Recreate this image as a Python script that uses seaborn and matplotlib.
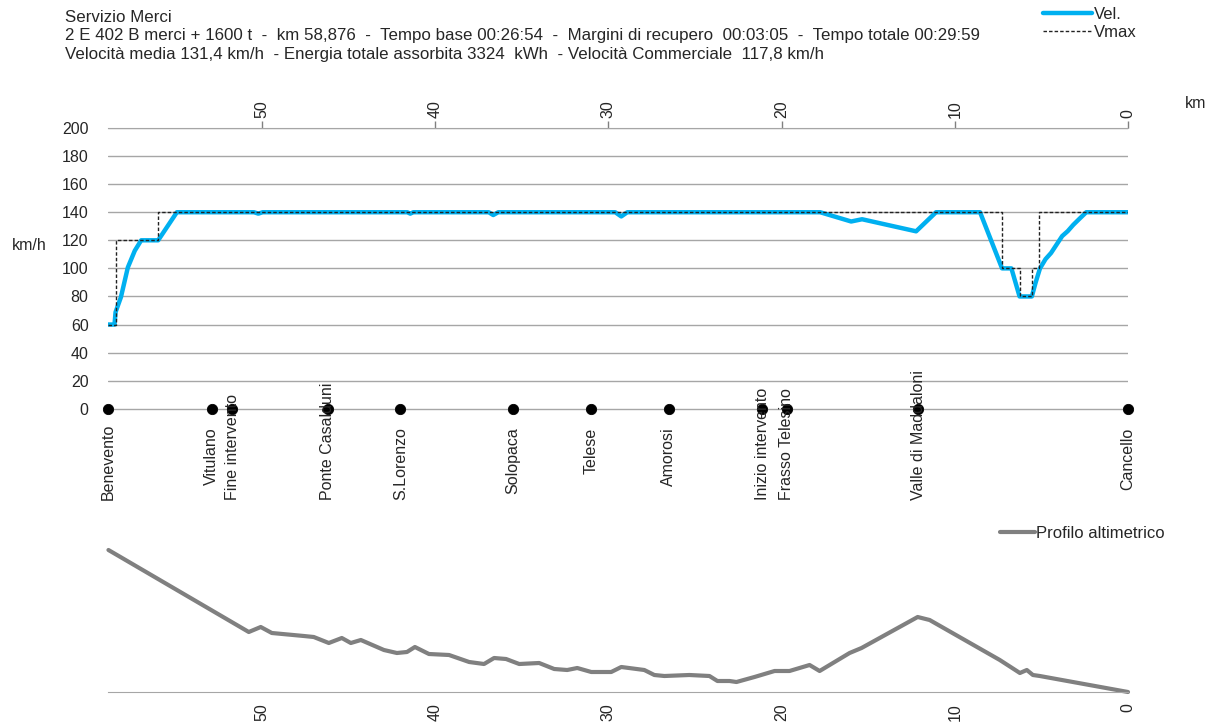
import matplotlib
matplotlib.use('Agg')
import matplotlib.pyplot as plt
import seaborn as sns
from matplotlib.lines import Line2D

sns.set_style('white')
plt.rcParams['font.family'] = ['Liberation Sans', 'DejaVu Sans']

# ---------------- data ----------------
header_lines = [
    "Servizio Merci",
    "2 E 402 B merci + 1600 t  -  km 58,876  -  Tempo base 00:26:54  -  Margini di recupero  00:03:05  -  Tempo totale 00:29:59",
    "Velocità media 131,4 km/h  - Energia totale assorbita 3324  kWh  - Velocità Commerciale  117,8 km/h",
]

speed_km = [58.876, 58.5, 58.44, 58.13, 57.73, 57.33, 56.96, 55.98, 54.9,
            50.45, 50.2, 49.95, 41.6, 41.43, 41.25, 36.9, 36.64, 36.35,
            29.6, 29.25, 28.9, 17.77, 15.98, 15.35, 12.23, 11.08, 8.54,
            7.27, 6.73, 6.26, 5.55, 5.33, 5.08, 4.76, 4.44, 4.12, 3.80,
            3.48, 3.16, 2.83, 2.41, 0.0]
speed_v = [60, 60, 68.8, 79.5, 100.7, 112.6, 120, 120, 140,
           140, 139, 140, 140, 139, 140, 140, 138, 140,
           140, 137, 140, 140, 133.4, 135, 126.4, 140, 140,
           100, 100, 80, 80, 90, 100, 106.6, 111, 117, 123,
           126.5, 131, 135, 140, 140]

vmax_km = [58.876, 58.43, 55.98, 7.27, 6.26, 5.55, 5.13, 0.0]
vmax_v = [60, 120, 140, 100, 80, 100, 140, 140]

station_names = ["Benevento", "Vitulano", "Fine intervento", "Ponte Casalduni",
                 "S.Lorenzo", "Solopaca", "Telese", "Amorosi",
                 "Inizio intervento", "Frasso Telesino", "Valle di Maddaloni",
                 "Cancello"]
station_km = [58.876, 52.9, 51.7, 46.2, 42.0, 35.5, 31.0, 26.5, 21.1, 19.7, 12.1, 0.0]

profile_km = [58.85, 50.75, 50.06, 49.42, 47.57, 47.0, 46.13, 45.38, 44.86, 44.28,
              42.95, 42.2, 41.62, 41.16, 40.35, 39.19, 38.03, 37.17, 36.59, 35.9,
              35.14, 33.99, 33.12, 32.37, 31.79, 30.98, 29.83, 29.25, 27.92, 27.34,
              26.76, 25.32, 24.16, 23.7, 23.0, 22.6, 21.56, 20.4, 19.54, 18.38,
              17.8, 16.07, 15.38, 12.14, 11.45, 7.4, 6.24, 5.84, 5.49, 5.09, 0.0]
profile_elev = [142, 60, 65, 59, 56, 55, 49, 54, 49, 52,
                42, 39, 40, 45, 38, 37, 30, 28, 34, 33,
                28, 29, 23, 22, 24, 20, 20, 25, 22, 17,
                16, 17, 16, 11, 11, 10, 15, 21, 21, 27,
                21, 39, 44, 75, 72, 32, 19, 22, 17, 16, 0]

km_ticks = [0, 10, 20, 30, 40, 50]
speed_ticks = list(range(0, 201, 20))

# ---------------- figure ----------------
W, H = 1217, 724
fig = plt.figure(figsize=(W / 100, H / 100), dpi=100)

def fx(px):
    return px / W

def fy(py):
    return 1 - py / H

for i, line in enumerate(header_lines):
    fig.text(fx(65), fy(17 + 18.5 * i), line, fontsize=12.2, va='center', ha='left')

ax = fig.add_axes([fx(108), fy(500), fx(1128 - 108), (500 - 128) / H])
ax.set_xlim(58.876, 0)
ax.set_ylim(-65, 200)

sns.lineplot(x=speed_km, y=speed_v, sort=False, estimator=None, color='#00B0F0',
             lw=3.2, ax=ax, zorder=3, solid_joinstyle='round')
sns.lineplot(x=vmax_km, y=vmax_v, sort=False, estimator=None, color='#222222',
             lw=1.0, ls=(0, (2.5, 1.5)), drawstyle='steps-post', ax=ax, zorder=4)
sns.scatterplot(x=station_km, y=[0] * len(station_km), color='black', s=55,
                edgecolor='black', ax=ax, zorder=5, clip_on=False, legend=False)

ax.set_yticks(speed_ticks)
ax.set_yticklabels([str(t) for t in speed_ticks], fontsize=11.5)
ax.yaxis.grid(True, color='#A6A6A6', lw=1)
ax.xaxis.grid(False)
ax.tick_params(axis='y', length=0, pad=14)
ax.xaxis.tick_top()
ax.set_xticks(km_ticks)
ax.set_xticklabels([str(t) for t in km_ticks], fontsize=11.5)
ax.tick_params(axis='x', direction='out', length=5, color='#808080', width=1,
               labelrotation=90, pad=2)
for s in ['left', 'right', 'bottom']:
    ax.spines[s].set_visible(False)
ax.spines['top'].set_color('#A6A6A6')
ax.set_xlabel('')
ax.set_ylabel('')

fig.text(fx(12), fy(245), 'km/h', fontsize=11.5, va='center', ha='left')
fig.text(fx(1185), fy(103), 'km', fontsize=11.5, va='center', ha='left')

# station labels
texts = []
for name, k in zip(station_names, station_km):
    t = ax.text(k, -13.5, name, rotation=90, va='top', ha='center', fontsize=11.5,
                zorder=6)
    texts.append(t)
fig.canvas.draw()
renderer = fig.canvas.get_renderer()
ybot_disp = ax.transData.transform((0, -65))[1]
for t in texts:
    bb = t.get_window_extent(renderer)
    if bb.y0 < ybot_disp:
        t.set_va('bottom')
        t.set_y(-65)

handles = [Line2D([], [], color='#00B0F0', lw=3.2),
           Line2D([], [], color='#222222', lw=1.0, ls=(0, (2.5, 1.5)))]
fig.legend(handles, ['Vel.', 'Vmax'], loc='upper left',
           bbox_to_anchor=(fx(1036), fy(0)), frameon=False, fontsize=12,
           handlelength=2.95, handletextpad=0.1, labelspacing=0.2,
           borderaxespad=0)

# ---------------- altimetric profile ----------------
ax2 = fig.add_axes([fx(108), fy(692), fx(1128 - 108), 152 / H])
ax2.set_xlim(58.876, 0)
ax2.set_ylim(0, 152)
sns.lineplot(x=profile_km, y=profile_elev, sort=False, estimator=None,
             color='#808080', lw=3, ax=ax2, clip_on=False)
ax2.set_xticks(km_ticks)
ax2.set_xticklabels([str(t) for t in km_ticks], fontsize=11.5)
ax2.tick_params(axis='x', direction='out', length=5, color='#808080', width=1,
                labelrotation=90, pad=3)
ax2.set_yticks([])
for s in ['left', 'right', 'top']:
    ax2.spines[s].set_visible(False)
ax2.spines['bottom'].set_color('#A6A6A6')
ax2.set_xlabel('')
ax2.set_ylabel('')

fig.legend([Line2D([], [], color='#808080', lw=3)], ['Profilo altimetrico'],
           loc='center left', bbox_to_anchor=(fx(993), fy(533)), frameon=False,
           fontsize=12, handlelength=2.1, handletextpad=0.1, borderaxespad=0)

fig.savefig('out.png', dpi=100)
